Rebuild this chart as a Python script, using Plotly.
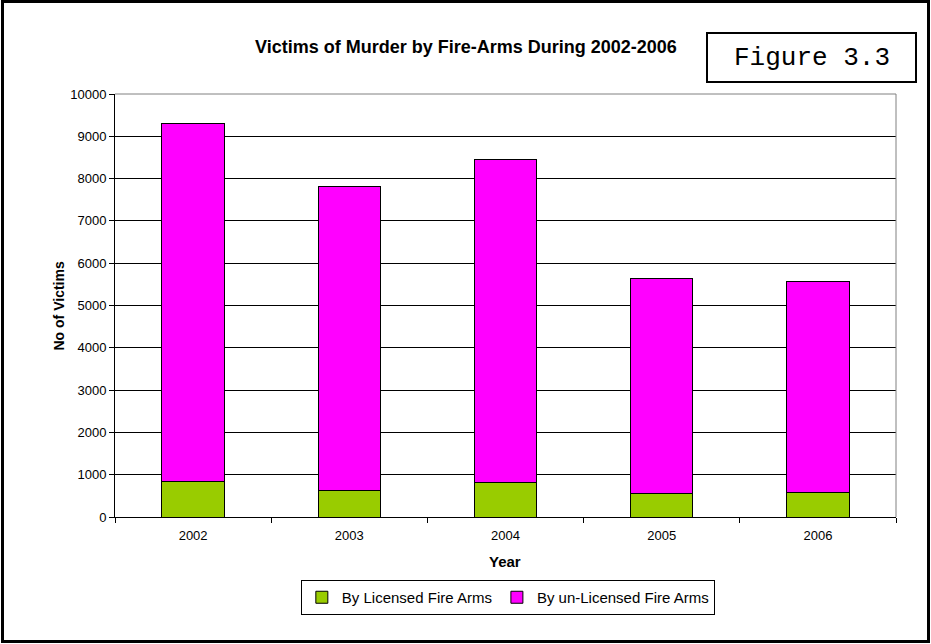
import plotly.graph_objects as go

years = ["2002", "2003", "2004", "2005", "2006"]
licensed = [828, 617, 812, 547, 578]
unlicensed = [8472, 7208, 7628, 5091, 4989]
series_names = ["By Licensed Fire Arms", "By un-Licensed Fire Arms"]
colors = ["#99CC00", "#FF00FF"]
y_ticks = list(range(0, 10001, 1000))
y_tick_labels = [str(v) for v in y_ticks]

W, H = 931, 644
L, R, T, B = 115, 35, 94, 127
PW, PH = W - L - R, H - T - B


def px(x):
    return (x - L) / PW


def py(y):
    return (H - B - y) / PH


FONT = "Arial, Liberation Sans, sans-serif"

fig = go.Figure()
for name, vals, col in zip(series_names, [licensed, unlicensed], colors):
    fig.add_trace(go.Bar(
        x=years, y=vals, name=name,
        marker=dict(color=col, line=dict(color="black", width=1)),
    ))

fig.update_layout(
    width=W, height=H,
    margin=dict(l=L, r=R, t=T, b=B),
    barmode="stack", bargap=0.6,
    paper_bgcolor="white", plot_bgcolor="white",
    font=dict(family=FONT, size=13, color="black"),
    showlegend=True,
    legend=dict(
        orientation="h", x=0.503, xanchor="center", y=py(580), yanchor="top",
        bordercolor="black", borderwidth=1, font=dict(size=15, family=FONT),
        traceorder="normal", bgcolor="white",
    ),
    xaxis=dict(
        type="category", ticks="outside", tickson="boundaries", ticklen=5,
        tickcolor="black", showline=True, linecolor="black", linewidth=1,
        tickfont=dict(size=13), showgrid=False, ticklabelstandoff=6,
    ),
    yaxis=dict(
        range=[0, 10000], tickmode="array", tickvals=y_ticks, ticktext=y_tick_labels,
        ticks="outside", ticklen=5,
        tickcolor="black", showline=True, linecolor="black", linewidth=1,
        showgrid=True, gridcolor="black", gridwidth=1, zeroline=False,
        tickfont=dict(size=13),
    ),
    annotations=[
        dict(text="<b>Victims of Murder by Fire-Arms During 2002-2006</b>",
             x=px(466), y=py(47), xref="paper", yref="paper",
             showarrow=False, xanchor="center", yanchor="middle",
             font=dict(size=18, family=FONT)),
        dict(text="Figure 3.3", x=px(811.5), y=py(57.5), xref="paper", yref="paper",
             showarrow=False, xanchor="center", yanchor="middle",
             font=dict(size=26, family="Courier New, Liberation Mono, monospace")),
        dict(text="<b>No of Victims</b>", x=px(58), y=0.5, xref="paper", yref="paper",
             showarrow=False, xanchor="center", yanchor="middle", textangle=-90,
             font=dict(size=14, family=FONT)),
        dict(text="<b>Year</b>", x=px(505), y=py(561), xref="paper", yref="paper",
             showarrow=False, xanchor="center", yanchor="middle",
             font=dict(size=15, family=FONT)),
    ],
    shapes=[
        dict(type="rect", xref="paper", yref="paper",
             x0=px(2.5), x1=px(928.5), y0=py(641.5), y1=py(1.5),
             line=dict(color="black", width=3), layer="above"),
        dict(type="rect", xref="paper", yref="paper",
             x0=px(707), x1=px(916), y0=py(82), y1=py(33),
             line=dict(color="black", width=2), layer="above"),
        dict(type="line", xref="paper", yref="paper",
             x0=0, x1=1, y0=1, y1=1, line=dict(color="#808080", width=1), layer="above"),
        dict(type="line", xref="paper", yref="paper",
             x0=1, x1=1, y0=0, y1=1, line=dict(color="#808080", width=1), layer="above"),
    ],
)

fig.write_html("out.html", config={"displayModeBar": False})

# remove the default page margin so the figure fills the window exactly
with open("out.html", "r", encoding="utf-8") as f:
    html = f.read()
html = html.replace("<head>", "<head><style>html,body{margin:0;padding:0;overflow:hidden;}</style>", 1)
with open("out.html", "w", encoding="utf-8") as f:
    f.write(html)
